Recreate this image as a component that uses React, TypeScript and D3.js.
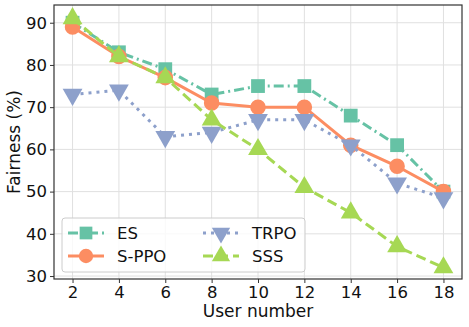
import React, { useEffect, useRef } from 'react';
import * as d3 from 'd3';

const userNumbers = [2, 4, 6, 8, 10, 12, 14, 16, 18];
const esValues = [90, 83, 79, 73, 75, 75, 68, 61, 50];
const sppoValues = [89, 82, 77, 71, 70, 70, 61, 56, 50];
const trpoValues = [73, 74, 63, 64, 67, 67, 61, 52, 48.5];
const sssValues = [91, 82, 77, 67, 60, 51, 45, 37, 32];
const yTicks = [30, 40, 50, 60, 70, 80, 90];

const series = [
  { name: 'ES', values: esValues, color: '#66c2a5', dash: '10,4,2,4', marker: 'square' },
  { name: 'S-PPO', values: sppoValues, color: '#fc8d62', dash: null, marker: 'circle' },
  { name: 'TRPO', values: trpoValues, color: '#8da0cb', dash: '3,5', marker: 'triangleDown' },
  { name: 'SSS', values: sssValues, color: '#a6d854', dash: '10,5', marker: 'triangle' },
];

const App = () => {
  const ref = useRef<SVGSVGElement>(null);

  useEffect(() => {
    const svg = d3.select(ref.current);
    svg.selectAll('*').remove();

    const left = 54, right = 462, top = 5, bottom = 279;
    const x = d3.scaleLinear().domain([1.2, 18.8]).range([left, right]);
    const y = d3.scaleLinear().domain([29.3, 94.2]).range([bottom, top]);
    const font = 'DejaVu Sans, sans-serif';

    // grid
    svg.append('g').selectAll('line').data(userNumbers).enter().append('line')
      .attr('x1', d => x(d)).attr('x2', d => x(d)).attr('y1', top).attr('y2', bottom)
      .attr('stroke', '#e0e0e0').attr('stroke-width', 1);
    svg.append('g').selectAll('line').data(yTicks).enter().append('line')
      .attr('y1', d => y(d)).attr('y2', d => y(d)).attr('x1', left).attr('x2', right)
      .attr('stroke', '#e0e0e0').attr('stroke-width', 1);

    const xAxis = svg.append('g').attr('transform', `translate(0,${bottom})`)
      .call(d3.axisBottom(x).tickValues(userNumbers).tickSize(4).tickPadding(3));
    const yAxis = svg.append('g').attr('transform', `translate(${left},0)`)
      .call(d3.axisLeft(y).tickValues(yTicks).tickSize(4).tickPadding(3));
    [xAxis, yAxis].forEach(a => {
      a.select('.domain').remove();
      a.selectAll('line').attr('stroke', '#333');
      a.selectAll('text').attr('font-family', font).attr('font-size', 16.5).attr('fill', '#111');
    });

    const markerSymbol = (m: string, k = 1) => {
      if (m === 'square') return d3.symbol().type(d3.symbolSquare).size(190 * k)();
      if (m === 'circle') return d3.symbol().type(d3.symbolCircle).size(190 * k)();
      return d3.symbol().type(d3.symbolTriangle).size(170 * k)();
    };

    const line = d3.line<number>().x((_, i) => x(userNumbers[i])).y(d => y(d));
    series.forEach(s => {
      const g = svg.append('g');
      g.append('path').attr('d', line(s.values)).attr('fill', 'none')
        .attr('stroke', s.color).attr('stroke-width', 3)
        .attr('stroke-dasharray', s.dash);
      g.selectAll('path.m').data(s.values).enter().append('path').attr('class', 'm')
        .attr('d', markerSymbol(s.marker))
        .attr('transform', (d, i) => `translate(${x(userNumbers[i])},${y(d)})${s.marker === 'triangleDown' ? ' rotate(180)' : ''}`)
        .attr('fill', s.color);
    });

    // frame
    svg.append('rect').attr('x', left).attr('y', top).attr('width', right - left).attr('height', bottom - top)
      .attr('fill', 'none').attr('stroke', '#333').attr('stroke-width', 1.2);

    // legend
    const lg = svg.append('g');
    lg.append('rect').attr('x', 62).attr('y', 218).attr('width', 243).attr('height', 54).attr('rx', 3)
      .attr('fill', 'white').attr('fill-opacity', 0.8).attr('stroke', '#ccc');
    series.forEach((s, i) => {
      const col = Math.floor(i / 2), row = i % 2;
      const lx = 68 + col * 135, ly = 233 + row * 23;
      lg.append('line').attr('x1', lx).attr('x2', lx + 36).attr('y1', ly).attr('y2', ly)
        .attr('stroke', s.color).attr('stroke-width', 3).attr('stroke-dasharray', s.dash);
      lg.append('path').attr('d', markerSymbol(s.marker, 0.85))
        .attr('transform', `translate(${lx + 18},${ly})${s.marker === 'triangleDown' ? ' rotate(180)' : ''}`)
        .attr('fill', s.color);
      lg.append('text').attr('x', lx + 49).attr('y', ly + 6).text(s.name)
        .attr('font-family', font).attr('font-size', 16.5).attr('fill', '#111');
    });

    svg.append('text').attr('x', 258).attr('y', 317).attr('text-anchor', 'middle')
      .attr('font-family', font).attr('font-size', 17).attr('fill', '#111').text('User number');
    svg.append('text').attr('transform', `translate(20,142) rotate(-90)`)
      .attr('text-anchor', 'middle').attr('font-family', font).attr('font-size', 17).attr('fill', '#111')
      .text('Fairness (%)');
  }, []);

  return <svg ref={ref} width={469} height={327} style={{ position: 'absolute', left: 0, top: 0 }}></svg>;
};

export default App;
